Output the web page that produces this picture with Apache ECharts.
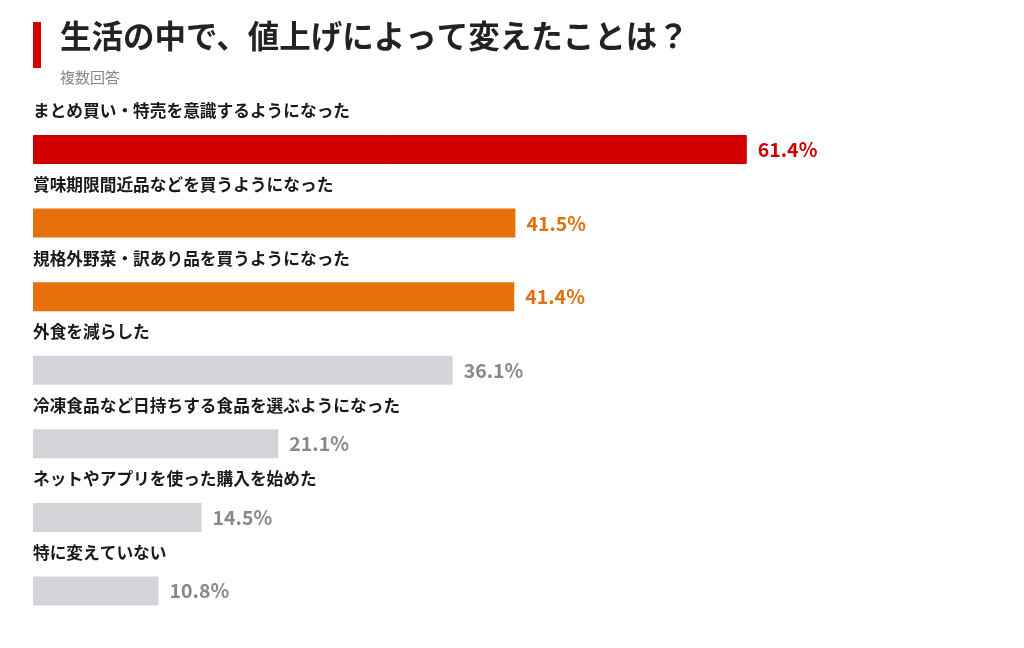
<!DOCTYPE html>
<html>
<head>
<meta charset="utf-8">
<script src="https://cdn.jsdelivr.net/npm/echarts@6/dist/echarts.min.js"></script>
<style>
  html, body { margin: 0; padding: 0; background: #fff; }
  #main { width: 1024px; height: 648px; }
</style>
</head>
<body>
<div id="main"></div>
<script>
var categories = [
    'まとめ買い・特売を意識するようになった',
    '賞味期限間近品などを買うようになった',
    '規格外野菜・訳あり品を買うようになった',
    '外食を減らした',
    '冷凍食品など日持ちする食品を選ぶようになった',
    'ネットやアプリを使った購入を始めた',
    '特に変えていない'
];
var values = [61.4, 41.5, 41.4, 36.1, 21.1, 14.5, 10.8];
var barColors = ['#d40000', '#e6700a', '#e6700a', '#d6d3d8', '#d6d3d8', '#d6d3d8', '#d6d3d8'];
var labelColors = ['#cc0000', '#e0700f', '#e0700f', '#888888', '#888888', '#888888', '#888888'];

var FONT = '"Noto Sans CJK JP", "Noto Sans", sans-serif';

var dom = document.getElementById('main');
var myChart = echarts.init(dom, null, { renderer: 'canvas' });

var barData = values.map(function (v, i) {
    return {
        value: v,
        itemStyle: {
            color: barColors[i],
            borderColor: i === 0 ? '#b80000' : barColors[i],
            borderWidth: i === 0 ? 1 : 0
        },
        label: { color: labelColors[i] }
    };
});

// invisible copy of the bars, only used to put the category name above each bar
var nameData = values.map(function (v, i) {
    return { value: v, name: categories[i] };
});

var option = {
    animation: false,
    backgroundColor: '#ffffff',
    title: {
        text: '生活の中で、値上げによって変えたことは？',
        subtext: '複数回答',
        left: 60,
        top: 20,
        padding: 0,
        itemGap: 18,
        textStyle: { fontFamily: FONT, fontSize: 31.5, fontWeight: 'bold', color: '#222222' },
        subtextStyle: { fontFamily: FONT, fontSize: 15, color: '#888888' }
    },
    graphic: [
        { type: 'rect', left: 33, top: 22, shape: { width: 8, height: 46 }, style: { fill: '#d40000' } }
    ],
    grid: {
        left: 33,
        top: 112.75,
        width: 930,
        height: 515
    },
    xAxis: {
        type: 'value',
        min: 0,
        max: 80,
        show: false
    },
    yAxis: {
        type: 'category',
        data: categories,
        inverse: true,
        axisLine: { show: false },
        axisTick: { show: false },
        axisLabel: { show: false }
    },
    series: [
        {
            type: 'bar',
            data: barData,
            barWidth: 29,
            label: {
                show: true,
                position: 'right',
                distance: 11,
                formatter: function (p) { return p.value.toFixed(1) + '%'; },
                fontFamily: FONT,
                fontSize: 19.5,
                fontWeight: 'bold'
            }
        },
        {
            type: 'bar',
            data: nameData,
            barWidth: 29,
            barGap: '-100%',
            silent: true,
            itemStyle: { color: 'rgba(0,0,0,0)' },
            label: {
                show: true,
                position: [0, -24],
                align: 'left',
                verticalAlign: 'middle',
                formatter: function (p) { return categories[p.dataIndex]; },
                fontFamily: FONT,
                fontSize: 16.7,
                fontWeight: 'bold',
                color: '#1a1a1a'
            }
        }
    ]
};

myChart.setOption(option);
window.addEventListener('resize', myChart.resize);
</script>
</body>
</html>
